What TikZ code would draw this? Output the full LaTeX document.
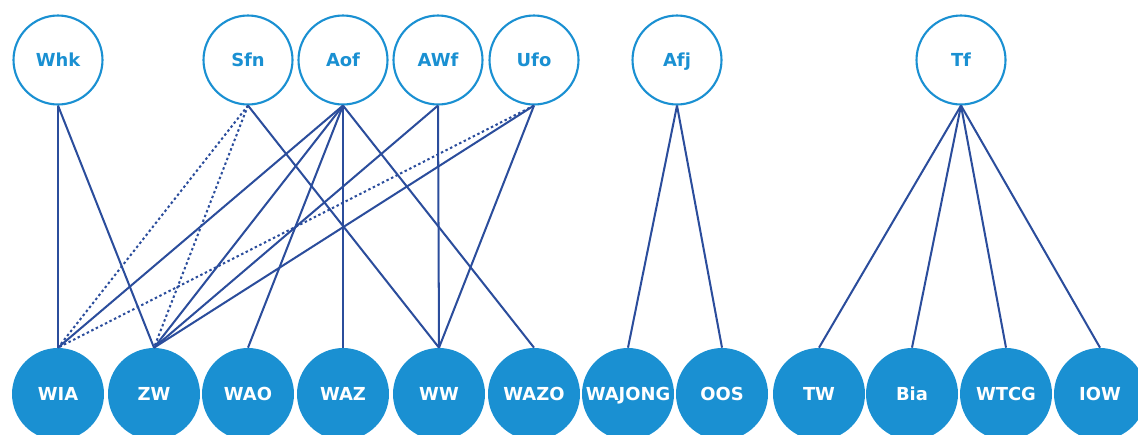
\documentclass[tikz,border=0pt]{standalone}
\usepackage{fontspec}
\setmainfont{DejaVu Sans}
\definecolor{lightblue}{HTML}{1A90D2}
\definecolor{darkblue}{HTML}{2B4D9C}

\begin{document}
\begin{tikzpicture}[x=0.02cm, y=-0.02cm,
    font=\bfseries\fontsize{10.2}{12}\selectfont,
    law/.style={circle, draw=lightblue, line width=1.2pt, fill=white,
        text=lightblue, minimum size=1.78cm, inner sep=0pt,
        text height=1.35ex, text depth=0pt},
    regel/.style={circle, fill=lightblue, text=white,
        minimum size=1.84cm, inner sep=0pt,
        text height=1.35ex, text depth=0pt},
    link/.style={darkblue, line width=1.15pt},
    weak/.style={link, dash pattern=on 1.4pt off 1.5pt}]
    \useasboundingbox (0,0) rectangle (1138,434);
    \clip (0,0) rectangle (1138,434);

    % laws on top
    \node[law] (whk) at (58,60) {Whk};
    \node[law] (sfn) at (248,60) {Sfn};
    \node[law] (aof) at (343,60) {Aof};
    \node[law] (awf) at (438,60) {AWf};
    \node[law] (ufo) at (534,60) {Ufo};
    \node[law] (afj) at (677,60) {Afj};
    \node[law] (tf) at (961,60) {Tf};

    % schemes at the bottom
    \node[regel] (wia) at (58,394) {WIA};
    \node[regel] (zw) at (154,394) {ZW};
    \node[regel] (wao) at (248,394) {WAO};
    \node[regel] (waz) at (343,394) {WAZ};
    \node[regel] (ww) at (439,394) {WW};
    \node[regel] (wazo) at (534,394) {WAZO};
    \node[regel] (wajong) at (628,394) {WAJONG};
    \node[regel] (oos) at (722,394) {OOS};
    \node[regel] (tw) at (819,394) {TW};
    \node[regel] (bia) at (912,394) {Bia};
    \node[regel] (wtcg) at (1006,394) {WTCG};
    \node[regel] (iow) at (1100,394) {IOW};

    \draw[link] (whk.south) -- (wia.north);
    \draw[link] (whk.south) -- (zw.north);

    \draw[weak] (sfn.south) -- (wia.north);
    \draw[weak] (sfn.south) -- (zw.north);
    \draw[link] (sfn.south) -- (ww.north);

    \draw[link] (aof.south) -- (wia.north);
    \draw[link] (aof.south) -- (zw.north);
    \draw[link] (aof.south) -- (wao.north);
    \draw[link] (aof.south) -- (waz.north);
    \draw[link] (aof.south) -- (wazo.north);

    \draw[link] (awf.south) -- (zw.north);
    \draw[link] (awf.south) -- (ww.north);

    \draw[weak] (ufo.south) -- (wia.north);
    \draw[link] (ufo.south) -- (zw.north);
    \draw[link] (ufo.south) -- (ww.north);

    \draw[link] (afj.south) -- (wajong.north);
    \draw[link] (afj.south) -- (oos.north);

    \draw[link] (tf.south) -- (tw.north);
    \draw[link] (tf.south) -- (bia.north);
    \draw[link] (tf.south) -- (wtcg.north);
    \draw[link] (tf.south) -- (iow.north);
\end{tikzpicture}
\end{document}
